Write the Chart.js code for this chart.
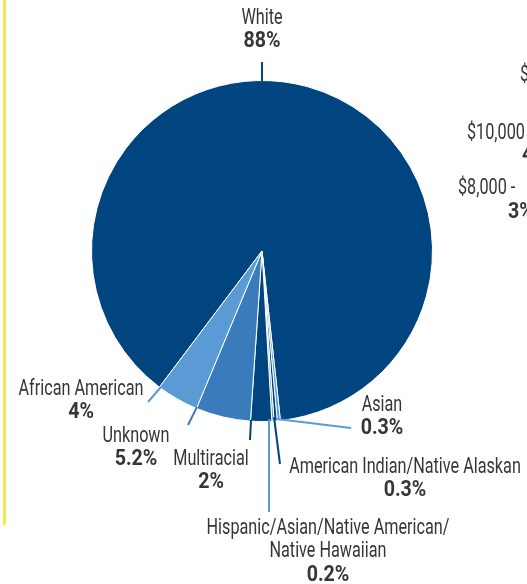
<!DOCTYPE html>
<html>
<head>
<meta charset="utf-8">
<script src="https://cdn.jsdelivr.net/npm/chart.js@4"></script>
<style>
  html, body { margin: 0; padding: 0; background: #fff; }
  #wrap { position: relative; width: 527px; height: 584px; }
</style>
</head>
<body>
<div id="wrap"><canvas id="pie"></canvas></div>
<script>
// ---- data ----
const groups = ['White', 'Asian', 'American Indian/Native Alaskan',
  'Hispanic/Asian/Native American/Native Hawaiian', 'Multiracial', 'Unknown', 'African American'];
const shares = [88, 0.3, 0.3, 0.2, 2, 5.2, 4];
// label text split into lines as printed
const groupLines = [
  ['White'],
  ['Asian'],
  ['American Indian/Native Alaskan'],
  ['Hispanic/Asian/Native American/', 'Native Hawaiian'],
  ['Multiracial'],
  ['Unknown'],
  ['African American']
];
// cut-off labels of the neighbouring chart at the right edge
const sideTexts = ['$', '$10,000', '4', '$8,000 -', '3%'];

// ---- styles / layout ----
const NAVY = '#00457f', LIGHT = '#5a9bd5', MID = '#3a7cbb';
const sliceColors = [NAVY, LIGHT, NAVY, LIGHT, NAVY, MID, LIGHT];
const FONT = "Roboto, 'Noto Sans', sans-serif";
const FONT_SIZE = 22;
const TEXT = '#363636';

// label anchor (centre x, first line y), leader start and end
const labelLayout = [
  { x: 262, y: 18, from: [262, 81], end: [262, 62] },
  { x: 382, y: 405, from: [277, 419], end: [351, 428] },
  { x: 405, y: 467, from: [274, 417], end: [280, 464] },
  { x: 328, y: 528, from: [269, 419], end: [269, 512] },
  { x: 211, y: 459, from: [251, 420], end: [250, 440] },
  { x: 136, y: 436, from: [197, 407], end: [188, 425] },
  { x: 81, y: 389, from: [161, 387], end: [148, 402] }
];
const sideLayout = [
  { x: 520, y: 75, bold: false },
  { x: 467, y: 133, bold: false },
  { x: 522, y: 155, bold: true },
  { x: 458, y: 188, bold: false },
  { x: 508, y: 212, bold: true }
];

let squeeze = 0.78, squeezeBold = 0.85;

function drawText(ctx, text, x, y, bold, align) {
  ctx.save();
  ctx.font = (bold ? 'bold ' : '') + FONT_SIZE + 'px ' + FONT;
  ctx.textAlign = align;
  ctx.textBaseline = 'middle';
  ctx.translate(x, y);
  ctx.scale(bold ? squeezeBold : squeeze, 1);
  ctx.fillText(text, 0, 0);
  ctx.restore();
}

const labelPlugin = {
  id: 'labels',
  afterDraw(chart) {
    const ctx = chart.ctx;
    ctx.save();

    // condensed look: fit sample strings to their printed widths
    ctx.font = FONT_SIZE + 'px ' + FONT;
    squeeze = 125 / ctx.measureText('African American').width;
    ctx.font = 'bold ' + FONT_SIZE + 'px ' + FONT;
    squeezeBold = 37 / ctx.measureText('88%').width;

    // yellow rule at the left
    ctx.fillStyle = '#f6e84a';
    ctx.fillRect(3, 0, 3, 525);

    // leaders
    chart.getDatasetMeta(0).data.forEach((arc, i) => {
      const lay = labelLayout[i];
      ctx.strokeStyle = sliceColors[i];
      ctx.lineWidth = 2;
      ctx.beginPath();
      ctx.moveTo(lay.from[0], lay.from[1]);
      ctx.lineTo(lay.end[0], lay.end[1]);
      ctx.stroke();
    });

    // labels
    ctx.fillStyle = TEXT;
    groupLines.forEach((lines, i) => {
      const lay = labelLayout[i];
      let y = lay.y;
      lines.forEach(line => {
        drawText(ctx, line, lay.x, y, false, 'center');
        y += 23.5;
      });
      drawText(ctx, shares[i] + '%', lay.x, y, true, 'center');
    });

    // neighbouring chart, clipped by the edge
    sideTexts.forEach((t, i) => {
      const s = sideLayout[i];
      drawText(ctx, t, s.x, s.y, s.bold, 'left');
    });
    ctx.restore();
  }
};

new Chart(document.getElementById('pie'), {
  type: 'pie',
  data: {
    labels: groups,
    datasets: [{
      data: shares,
      backgroundColor: sliceColors,
      borderColor: '#ffffff',
      borderWidth: 1
    }]
  },
  options: {
    responsive: true,
    maintainAspectRatio: false,
    animation: false,
    rotation: 217,
    layout: { padding: { left: 91, right: 94, top: 80, bottom: 162 } },
    plugins: {
      legend: { display: false },
      tooltip: { enabled: false }
    }
  },
  plugins: [labelPlugin]
});
</script>
</body>
</html>
